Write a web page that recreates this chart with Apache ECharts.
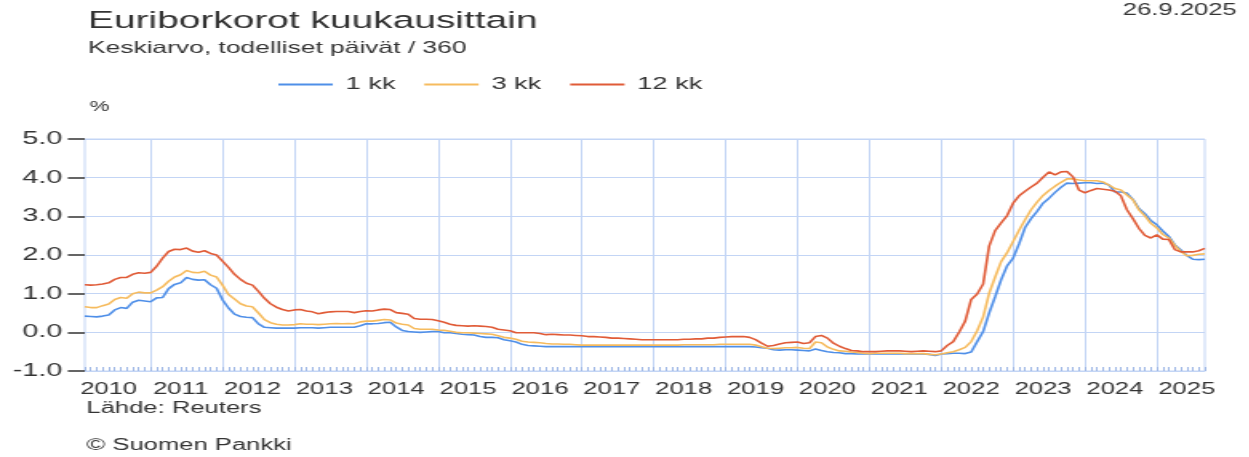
<!DOCTYPE html>
<html>
<head>
<meta charset="utf-8">
<title>Euriborkorot kuukausittain</title>
<script src="https://cdn.jsdelivr.net/npm/echarts@6/dist/echarts.min.js"></script>
<style>
  html, body { margin: 0; padding: 0; background: #fff; overflow: hidden; }
  #wrap { width: 1249px; height: 457px; overflow: hidden; }
  /* alkuperäinen kuva on venytetty vaakasuunnassa */
  #chart { width: 781px; height: 457px; transform: scaleX(1.6); transform-origin: 0 0; }
</style>
</head>
<body>
<div id="wrap"><div id="chart"></div></div>
<script>
// kuukaudet 2010-02 ... 2025-09
var startYear = 2010, startMonth = 2, monthCount = 188;
var months = [];
for (var i = 0; i < monthCount; i++) {
  var m = startMonth - 1 + i;
  var y = startYear + Math.floor(m / 12);
  var mm = (m % 12) + 1;
  months.push(y + '-' + (mm < 10 ? '0' + mm : mm));
}

// 1 kk euribor
var euribor1 = [
  0.42, 0.41, 0.40, 0.42, 0.45, 0.58, 0.64, 0.62, 0.78, 0.83, 0.81,
  0.79, 0.89, 0.90, 1.13, 1.24, 1.28, 1.42, 1.37, 1.35, 1.36, 1.23, 1.14,
  0.84, 0.63, 0.47, 0.41, 0.39, 0.38, 0.22, 0.13, 0.12, 0.11, 0.11, 0.11,
  0.11, 0.12, 0.12, 0.12, 0.11, 0.12, 0.13, 0.13, 0.13, 0.13, 0.13, 0.17,
  0.22, 0.22, 0.23, 0.25, 0.26, 0.14, 0.05, 0.02, 0.01, 0.00, 0.01, 0.02,
  0.02, -0.01, -0.01, -0.03, -0.05, -0.06, -0.07, -0.11, -0.13, -0.13, -0.14, -0.19,
  -0.22, -0.25, -0.31, -0.34, -0.35, -0.36, -0.37, -0.37, -0.37, -0.37, -0.37, -0.37,
  -0.37, -0.37, -0.37, -0.37, -0.37, -0.37, -0.37, -0.37, -0.37, -0.37, -0.37, -0.37,
  -0.37, -0.37, -0.37, -0.37, -0.37, -0.37, -0.37, -0.37, -0.37, -0.37, -0.37, -0.37,
  -0.37, -0.37, -0.37, -0.37, -0.37, -0.38, -0.40, -0.41, -0.45, -0.46, -0.45, -0.45,
  -0.46, -0.47, -0.48, -0.43, -0.47, -0.50, -0.52, -0.53, -0.55, -0.55, -0.56, -0.56,
  -0.56, -0.55, -0.56, -0.56, -0.56, -0.56, -0.56, -0.56, -0.56, -0.56, -0.57, -0.60,
  -0.56, -0.55, -0.54, -0.54, -0.55, -0.51, -0.24, 0.02, 0.50, 0.92, 1.36, 1.72,
  1.92, 2.29, 2.71, 2.94, 3.13, 3.34, 3.47, 3.62, 3.75, 3.86, 3.85, 3.86,
  3.87, 3.87, 3.85, 3.86, 3.81, 3.63, 3.63, 3.60, 3.44, 3.20, 3.07, 2.89,
  2.78, 2.62, 2.48, 2.26, 2.13, 1.99, 1.89, 1.88, 1.89
];

// 3 kk euribor
var euribor3 = [
  0.66, 0.64, 0.64, 0.69, 0.73, 0.85, 0.90, 0.88, 1.00, 1.04, 1.02,
  1.02, 1.09, 1.18, 1.32, 1.43, 1.49, 1.60, 1.55, 1.54, 1.58, 1.48, 1.43,
  1.22, 0.98, 0.86, 0.74, 0.68, 0.66, 0.50, 0.33, 0.25, 0.21, 0.19, 0.19,
  0.20, 0.22, 0.21, 0.21, 0.20, 0.21, 0.22, 0.23, 0.22, 0.23, 0.22, 0.27,
  0.29, 0.29, 0.31, 0.33, 0.32, 0.24, 0.21, 0.19, 0.10, 0.08, 0.08, 0.08,
  0.06, 0.05, 0.03, 0.00, -0.01, -0.01, -0.02, -0.03, -0.04, -0.05, -0.09, -0.13,
  -0.15, -0.18, -0.23, -0.25, -0.26, -0.27, -0.29, -0.30, -0.30, -0.31, -0.31, -0.32,
  -0.33, -0.33, -0.33, -0.33, -0.33, -0.33, -0.33, -0.33, -0.33, -0.33, -0.33, -0.33,
  -0.33, -0.33, -0.33, -0.33, -0.33, -0.32, -0.32, -0.32, -0.32, -0.32, -0.32, -0.31,
  -0.31, -0.31, -0.31, -0.31, -0.31, -0.33, -0.37, -0.41, -0.42, -0.41, -0.40, -0.40,
  -0.39, -0.41, -0.42, -0.25, -0.27, -0.38, -0.44, -0.48, -0.49, -0.51, -0.52, -0.54,
  -0.55, -0.54, -0.54, -0.54, -0.54, -0.54, -0.55, -0.55, -0.55, -0.55, -0.57, -0.58,
  -0.56, -0.53, -0.50, -0.45, -0.39, -0.24, 0.04, 0.40, 1.01, 1.43, 1.83, 2.06,
  2.35, 2.64, 2.91, 3.17, 3.37, 3.54, 3.67, 3.78, 3.88, 3.97, 3.97, 3.94,
  3.92, 3.92, 3.92, 3.89, 3.81, 3.72, 3.68, 3.55, 3.43, 3.17, 3.01, 2.82,
  2.70, 2.53, 2.44, 2.25, 2.09, 1.98, 1.99, 2.02, 2.03
];

// 12 kk euribor
var euribor12 = [
  1.23, 1.22, 1.23, 1.25, 1.28, 1.37, 1.42, 1.42, 1.50, 1.54, 1.53,
  1.55, 1.71, 1.92, 2.09, 2.15, 2.14, 2.18, 2.10, 2.07, 2.11, 2.04, 2.00,
  1.84, 1.68, 1.50, 1.37, 1.27, 1.22, 1.06, 0.88, 0.74, 0.65, 0.59, 0.55,
  0.58, 0.59, 0.55, 0.53, 0.48, 0.51, 0.53, 0.54, 0.54, 0.54, 0.51, 0.54,
  0.56, 0.55, 0.58, 0.60, 0.59, 0.51, 0.49, 0.47, 0.36, 0.34, 0.34, 0.33,
  0.30, 0.26, 0.21, 0.18, 0.17, 0.16, 0.17, 0.16, 0.15, 0.13, 0.08, 0.06,
  0.04, -0.01, -0.01, -0.01, -0.01, -0.03, -0.06, -0.05, -0.06, -0.07, -0.07, -0.08,
  -0.09, -0.11, -0.11, -0.12, -0.13, -0.15, -0.15, -0.16, -0.17, -0.18, -0.19, -0.19,
  -0.19, -0.19, -0.19, -0.19, -0.19, -0.18, -0.18, -0.17, -0.17, -0.15, -0.15, -0.13,
  -0.12, -0.11, -0.11, -0.11, -0.13, -0.19, -0.28, -0.36, -0.34, -0.30, -0.27, -0.26,
  -0.25, -0.29, -0.27, -0.11, -0.08, -0.15, -0.28, -0.36, -0.42, -0.47, -0.48, -0.50,
  -0.50, -0.50, -0.49, -0.48, -0.48, -0.48, -0.49, -0.50, -0.49, -0.48, -0.49, -0.50,
  -0.48, -0.34, -0.24, 0.01, 0.29, 0.85, 0.99, 1.25, 2.23, 2.63, 2.83, 3.02,
  3.34, 3.53, 3.65, 3.76, 3.86, 4.01, 4.15, 4.07, 4.15, 4.16, 4.02, 3.68,
  3.61, 3.67, 3.72, 3.70, 3.68, 3.65, 3.53, 3.17, 2.94, 2.69, 2.51, 2.44,
  2.52, 2.41, 2.40, 2.14, 2.08, 2.08, 2.08, 2.11, 2.17
];

var seriesNames = ['1 kk', '3 kk', '12 kk'];
var seriesColors = ['#4f8fe8', '#f6bb5e', '#e05b37'];

var font = '"Liberation Sans", Arial, sans-serif';
var gridColor = '#c3d5f5';

var chart = echarts.init(document.getElementById('chart'));

// tekstit
function txt(str, x, y, size, align) {
  return {
    type: 'text', x: x, y: y, silent: true,
    style: {
      text: str,
      font: size + 'px ' + font,
      fill: '#333',
      textAlign: align || 'left',
      textVerticalAlign: 'middle'
    }
  };
}

var option = {
  animation: false,
  textStyle: { fontFamily: font },
  graphic: [
    txt('Euriborkorot kuukausittain', 55, 21, 24.3),
    txt('Keskiarvo, todelliset päivät / 360', 55, 48, 16.5),
    txt('26.9.2025', 773, 11, 16, 'right'),
    txt('%', 56, 107, 14),
    txt('Lähde: Reuters', 54, 409, 16),
    txt('© Suomen Pankki', 54, 446, 16)
  ],
  legend: {
    left: 169,
    top: 71,
    icon: 'rect',
    itemWidth: 34,
    itemHeight: 2,
    itemGap: 18,
    textStyle: { fontSize: 17, color: '#333', padding: [0, 0, 0, 3] },
    data: seriesNames
  },
  grid: {
    left: 53, right: 28, top: 139, bottom: 86,
    show: true, borderColor: gridColor, borderWidth: 1
  },
  xAxis: {
    type: 'category',
    boundaryGap: false,
    data: months,
    axisLine: { show: true, onZero: false, lineStyle: { color: gridColor } },
    axisTick: {
      show: true, interval: 0, inside: true, length: 4,
      lineStyle: { color: '#9fb8e6' }
    },
    axisLabel: {
      interval: function (i, v) { return v.slice(5) === '06'; },
      formatter: function (v) { return v.slice(0, 4); },
      fontSize: 16, color: '#333', margin: 11
    },
    splitLine: {
      show: true,
      interval: function (i, v) { return v.slice(5) === '01'; },
      lineStyle: { color: gridColor, width: 1 }
    }
  },
  yAxis: {
    type: 'value',
    min: -1, max: 5, interval: 1,
    axisLine: { show: false },
    axisTick: { show: true, length: 10.6, lineStyle: { color: '#333', width: 1.5 } },
    axisLabel: {
      fontSize: 18, color: '#333', margin: 14,
      formatter: function (v) { return v.toFixed(1); }
    },
    splitLine: { lineStyle: { color: gridColor, width: 1 } }
  },
  series: [
    { name: seriesNames[0], type: 'line', data: euribor1 },
    { name: seriesNames[1], type: 'line', data: euribor3 },
    { name: seriesNames[2], type: 'line', data: euribor12 }
  ].map(function (s, i) {
    s.showSymbol = false;
    s.symbol = 'none';
    s.color = seriesColors[i];
    s.lineStyle = { width: 1.6, color: seriesColors[i] };
    s.emphasis = { disabled: true };
    return s;
  })
};

chart.setOption(option);
</script>
</body>
</html>
